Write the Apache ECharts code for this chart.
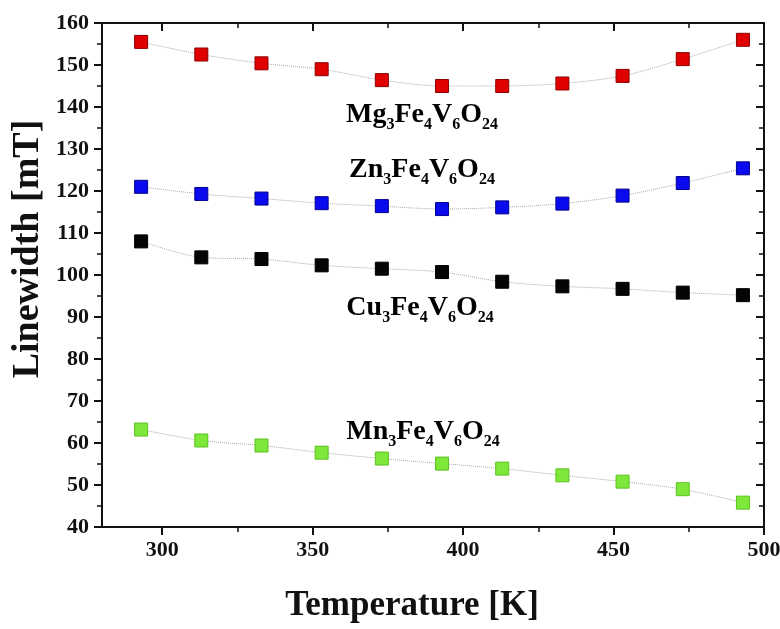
<!DOCTYPE html>
<html>
<head>
<meta charset="utf-8">
<script src="https://cdn.jsdelivr.net/npm/echarts@6/dist/echarts.min.js"></script>
<style>
  html, body { margin: 0; padding: 0; background: #fff; }
  #chart { width: 780px; height: 629px; }
</style>
</head>
<body>
<div id="chart"></div>
<script>
// temperatures (K)
var temps = [293, 313, 333, 353, 373, 393, 413, 433, 453, 473, 493];
// linewidth (mT) per sample
var mgData = [155.5, 152.5, 150.4, 149.0, 146.4, 145.0, 145.0, 145.6, 147.4, 151.4, 156.0];
var znData = [121.0, 119.3, 118.2, 117.1, 116.4, 115.7, 116.1, 117.0, 118.9, 121.9, 125.4];
var cuData = [108.0, 104.2, 103.8, 102.3, 101.5, 100.7, 98.4, 97.3, 96.7, 95.8, 95.2];
var mnData = [63.2, 60.6, 59.4, 57.7, 56.3, 55.1, 53.9, 52.3, 50.8, 49.0, 45.8];
// x ticks
var xMajor = [300, 350, 400, 450, 500];
var xMinor = [325, 375, 425, 475];

var serif = 'Liberation Serif';

function pairs(vals) {
  var out = [];
  for (var i = 0; i < temps.length; i++) {
    out.push([temps[i], vals[i]]);
  }
  return out;
}

function makeSeries(name, vals, fill, border) {
  return {
    name: name,
    type: 'line',
    data: pairs(vals),
    smooth: 0.3,
    symbol: 'rect',
    symbolSize: 13,
    itemStyle: { color: fill, borderColor: border, borderWidth: 1 },
    lineStyle: { color: '#aaa', width: 1, type: 'dotted' },
    z: 3
  };
}

// formula label as rich text: e.g. Mg3Fe4V6O24
function formula(metal) {
  return '{m|' + metal + '}{s|3}{m|Fe}{s|4}{m|V}{s|6}{m|O}{s|24}';
}

var richStyle = {
  m: { fontSize: 28, fontFamily: serif, fontWeight: 'bold', color: '#111', lineHeight: 36 },
  s: { fontSize: 16, fontFamily: serif, fontWeight: 'bold', color: '#111', lineHeight: 16, verticalAlign: 'bottom' }
};

function label(metal, x, y) {
  return {
    type: 'text',
    x: x,
    y: y,
    style: {
      text: formula(metal),
      rich: richStyle,
      align: 'center',
      verticalAlign: 'middle'
    }
  };
}

var chart = echarts.init(document.getElementById('chart'), null, { renderer: 'canvas' });

var tickLabel = { fontFamily: serif, fontWeight: 'bold', fontSize: 22, color: '#111' };
var lineSt = { color: '#111', width: 2 };

// x axis helper: ticks placed at given values only
function xAx(pos, ticks, len, inside, showLine, labels) {
  return {
    type: 'value',
    min: 280, max: 500,
    position: pos,
    axisLine: { show: showLine, onZero: false, lineStyle: lineSt },
    axisTick: { show: true, inside: inside, length: len, customValues: ticks,
      lineStyle: { color: '#111', width: len > 6 ? 2 : 1.5 } },
    axisLabel: labels ? Object.assign({ margin: 12, customValues: xMajor }, tickLabel) : { show: false },
    splitLine: { show: false }
  };
}

var option = {
  animation: false,
  backgroundColor: '#fff',
  grid: { left: 102, right: 16, top: 23, bottom: 102, containLabel: false, outerBoundsMode: 'none' },
  xAxis: [
    xAx('bottom', xMajor, 8, false, true, true),
    xAx('bottom', xMinor, 5, false, false, false),
    xAx('top', xMajor, 8, true, true, false),
    xAx('top', xMinor, 5, true, false, false)
  ],
  yAxis: [{
    type: 'value',
    min: 40, max: 160, interval: 10,
    position: 'left',
    axisLine: { onZero: false, lineStyle: lineSt },
    axisTick: { inside: false, length: 8, lineStyle: { color: '#111', width: 2 } },
    minorTick: { show: true, splitNumber: 2, length: 5, lineStyle: { color: '#111', width: 1.5 } },
    axisLabel: Object.assign({ margin: 13 }, tickLabel),
    splitLine: { show: false }
  }, {
    type: 'value',
    min: 40, max: 160, interval: 10,
    position: 'right',
    axisLine: { onZero: false, lineStyle: lineSt },
    axisTick: { inside: true, length: 8, lineStyle: { color: '#111', width: 2 } },
    minorTick: { show: true, splitNumber: 2, length: 5, lineStyle: { color: '#111', width: 1.5 } },
    axisLabel: { show: false },
    splitLine: { show: false }
  }],
  series: [
    makeSeries('Mg', mgData, '#e00000', '#8a0000'),
    makeSeries('Zn', znData, '#0a0aee', '#00008a'),
    makeSeries('Cu', cuData, '#050505', '#000000'),
    makeSeries('Mn', mnData, '#7de83a', '#5cc020')
  ],
  graphic: [
    label('Mg', 422, 115),
    label('Zn', 422, 170),
    label('Cu', 420, 308),
    label('Mn', 423, 432),
    {
      type: 'text', x: 412, y: 606,
      style: { text: 'Temperature [K]', font: 'bold 35px "Liberation Serif"', fill: '#111',
        align: 'center', verticalAlign: 'middle' }
    },
    {
      type: 'text', x: 28, y: 249, rotation: Math.PI / 2,
      style: { text: 'Linewidth [mT]', font: 'bold 38px "Liberation Serif"', fill: '#111',
        align: 'center', verticalAlign: 'middle' }
    }
  ]
};

chart.setOption(option);
</script>
</body>
</html>
